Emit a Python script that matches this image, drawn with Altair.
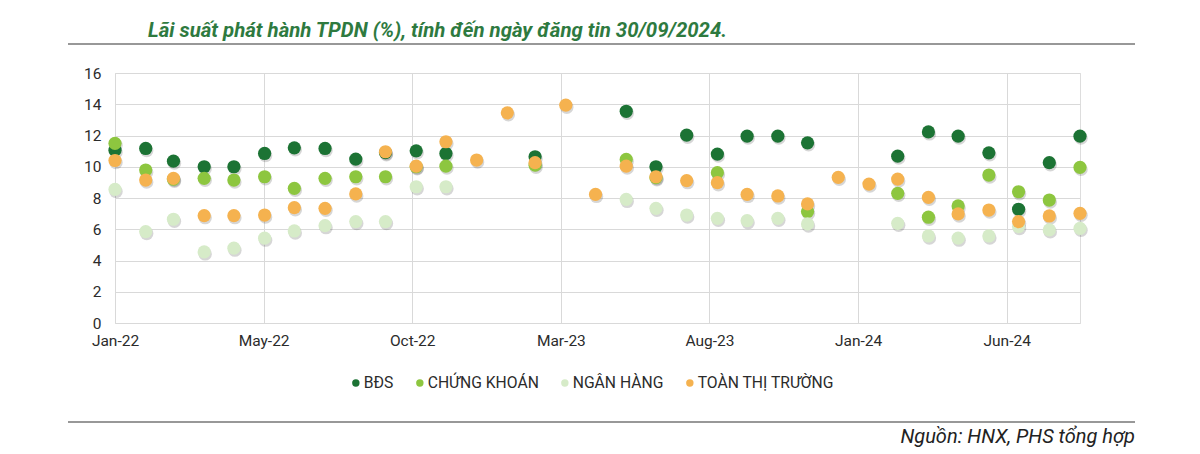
import altair as alt
import pandas as pd

# ---- data ----
months = [d.strftime("%Y-%m-%d") for d in pd.date_range("2022-01-01", periods=33, freq="MS")]
series_names = ["BĐS", "CHỨNG KHOÁN", "NGÂN HÀNG", "TOÀN THỊ TRƯỜNG"]
series_colors = ["#1c7334", "#8dc63f", "#d6ebc8", "#f5b24f"]

bds = [11.06, 11.17, 10.36, 10.0, 10.0, 10.85, 11.21, 11.17, 10.49, 10.9, 11.02, 10.85,
       None, None, 10.64, None, None, 13.55, 10.0, 12.02, 10.81, 11.96, 11.96, 11.53,
       None, None, 10.68, 12.23, 11.96, 10.89, 7.28, 10.26, 11.96]
chung_khoan = [11.5, 9.79, 9.2, 9.26, 9.15, 9.36, 8.62, 9.26, 9.36, 9.36, 10.0, 10.04,
               None, None, 10.1, None, None, 10.47, 9.3, None, 9.62, None, None, 7.13,
               None, None, 8.30, 6.77, 7.49, 9.47, 8.40, 7.87, 9.96]
ngan_hang = [8.55, 5.85, 6.64, 4.55, 4.79, 5.43, 5.89, 6.23, 6.49, 6.49, 8.72, 8.72,
             None, None, None, None, None, 7.91, 7.34, 6.91, 6.70, 6.55, 6.70, 6.34,
             None, None, 6.38, 5.57, 5.43, 5.57, 6.17, 5.96, 6.06]
toan_tt = [10.4, 9.15, 9.26, 6.87, 6.87, 6.91, 7.38, 7.34, 8.26, 10.96, 10.04, 11.6,
           10.43, 13.45, 10.26, 13.94, 8.23, 10.04, 9.36, 9.11, 8.98, 8.23, 8.13, 7.62,
           9.32, 8.89, 9.21, 8.04, 6.98, 7.23, 6.49, 6.85, 7.02]

tick_dates = ["2022-01-01", "2022-05-31", "2022-10-28", "2023-03-27",
              "2023-08-24", "2024-01-21", "2024-06-19"]
y_ticks = [0, 2, 4, 6, 8, 10, 12, 14, 16]

title_text = "Lãi suất phát hành TPDN (%), tính đến ngày đăng tin 30/09/2024."
source_text = "Nguồn: HNX, PHS tổng hợp"

# ---- long table ----
rows = []
for name, vals in zip(series_names, [bds, chung_khoan, ngan_hang, toan_tt]):
    for m, v in zip(months, vals):
        if v is not None:
            rows.append({"date": m, "series": name, "value": v})
df = pd.DataFrame(rows)


def dt(s):
    y, mo, d = [int(p) for p in s.split("-")]
    return alt.DateTime(year=y, month=mo, date=d, utc=True)


x_enc = alt.X(
    "date:T",
    scale=alt.Scale(type="utc", domain=[dt("2022-01-01"), dt("2024-09-01")], nice=False),
    axis=alt.Axis(
        values=[dt(s) for s in tick_dates],
        labelExpr="utcFormat(datum.value, '%b-%y')",
        labelFont="Roboto", labelFontSize=15.5, labelColor="#2b2b2b",
        labelPadding=10, ticks=False, tickSize=0, domain=False,
        grid=True, gridColor="#d9d9d9", gridWidth=1, title=None,
        labelFlush=False,
    ),
)
y_enc = alt.Y(
    "value:Q",
    scale=alt.Scale(domain=[0, 16], nice=False),
    axis=alt.Axis(
        values=y_ticks, labelFont="Roboto", labelFontSize=15.5, labelColor="#2b2b2b",
        labelPadding=14, ticks=False, tickSize=0, domain=False,
        grid=True, gridColor="#d9d9d9", gridWidth=1, title=None,
    ),
)

base = alt.Chart(df)

shadow = base.mark_circle(size=180, opacity=0.16, xOffset=1, yOffset=2).encode(
    x=x_enc, y=y_enc, color=alt.value("#000000")
)

points = base.mark_circle(size=175, opacity=1).encode(
    x=x_enc,
    y=y_enc,
    color=alt.Color(
        "series:N",
        sort=series_names,
        scale=alt.Scale(domain=series_names, range=series_colors),
        legend=alt.Legend(
            orient="none", direction="horizontal", title=None,
            legendX=233, legendY=302,
            symbolType="circle", symbolSize=55, symbolStrokeWidth=0,
            labelFont="Roboto", labelFontSize=15.7, labelColor="#2b2b2b",
            labelOffset=0, columnPadding=18,
        ),
    ),
)

one = pd.DataFrame({"k": [0]})

title_mark = alt.Chart(pd.DataFrame({"t": [title_text]})).mark_text(
    font="Roboto", fontSize=20.4, fontWeight="bold", fontStyle="italic",
    color="#2e7a3f", align="left", baseline="alphabetic",
).encode(text="t:N", x=alt.value(33), y=alt.value(-36))

top_rule = alt.Chart(one).mark_rule(color="#333333", strokeWidth=1.2).encode(
    x=alt.value(-47), x2=alt.value(1020), y=alt.value(-29)
)
bottom_rule = alt.Chart(one).mark_rule(color="#333333", strokeWidth=1.2).encode(
    x=alt.value(-47), x2=alt.value(1020), y=alt.value(349)
)

source_mark = alt.Chart(pd.DataFrame({"t": [source_text]})).mark_text(
    font="Roboto", fontSize=20, fontStyle="italic",
    color="#222222", align="right", baseline="alphabetic",
).encode(text="t:N", x=alt.value(1020), y=alt.value(370))

chart = alt.layer(shadow, points, title_mark, top_rule, bottom_rule, source_mark).properties(
    width=965,
    height=250,
    padding={"left": 107, "top": 65, "right": 105, "bottom": 130},
    autosize=alt.AutoSizeParams(type="none"),
).configure_view(stroke=None).configure(background="white")

chart.save("out.html", embed_options={"renderer": "svg", "actions": False})
